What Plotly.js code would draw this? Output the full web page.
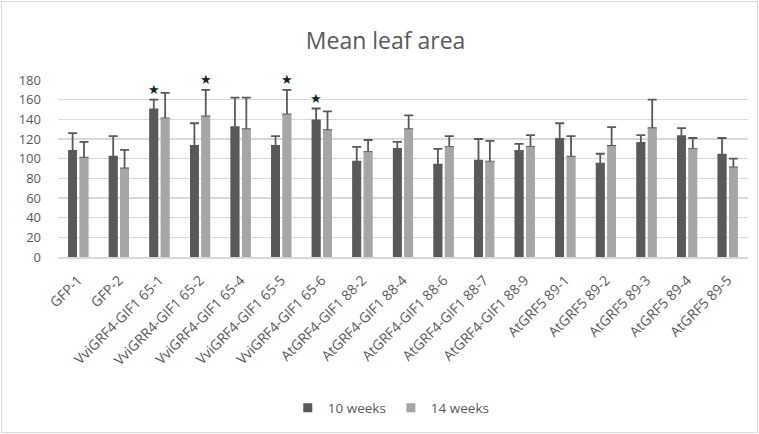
<!DOCTYPE html>
<html><head><meta charset="utf-8">
<script src="https://cdn.plot.ly/plotly-3.0.1.min.js"></script>
<style>
html,body{margin:0;padding:0;background:#fff;}
#frame{position:absolute;left:1px;top:1px;width:755px;height:430px;border:1px solid #d9d9d9;}
#chart{position:absolute;left:0;top:0;width:759px;height:434px;}
</style></head>
<body>
<div id="frame"></div>
<div id="chart"></div>
<script>
const categories = ["GFP-1","GFP-2","VviGRF4-GIF1 65-1","VviGRR4-GIF1 65-2","VviGRF4-GIF1 65-4","VviGRF4-GIF1 65-5","VviGRF4-GIF1 65-6","AtGRF4-GIF1 88-2","AtGRF4-GIF1 88-4","AtGRF4-GIF1 88-6","AtGRF4-GIF1 88-7","AtGRF4-GIF1 88-9","AtGRF5 89-1","AtGRF5 89-2","AtGRF5 89-3","AtGRF5 89-4","AtGRF5 89-5"];
const weeks10 = [108,102,150,113,132,113,139,97,110,94,98,108,120,95,116,123,104];
const err10   = [18,21,10,23,30,10,12,15,7,16,22,7,16,10,8,8,17];
const weeks14 = [101,90,141,143,130,145,129,107,130,112,97,112,102,113,131,110,91];
const err14   = [16,19,26,27,32,25,19,12,14,11,21,12,21,19,29,11,9];
// significance stars: category index, which series (0 = 10 weeks, 1 = 14 weeks)
const starIdx    = [2,3,5,6];
const starSeries = [0,1,1,0];
const seriesNames = ["10 weeks","14 weeks"];
const seriesColors = ["#595959","#a6a6a6"];

const gray = "#595959";
const font = "'Open Sans', sans-serif";
const vals = [weeks10, weeks14];
const errs = [err10, err14];

const traces = [];
// bars with upward error bars
[0,1].forEach(s=>{
  traces.push({type:"bar", name:seriesNames[s], x:categories, y:vals[s], offsetgroup:"g"+s,
    marker:{color:seriesColors[s]}, showlegend:false,
    error_y:{type:"data", symmetric:false, array:errs[s], arrayminus:errs[s].map(()=>0),
             visible:true, color:"#595959", thickness:1.8, width:4.5}});
});
// same bars again on top, hiding the lower half of the error bars
[0,1].forEach(s=>{
  traces.push({type:"bar", name:seriesNames[s], x:categories, y:vals[s], offsetgroup:"g"+s,
    marker:{color:seriesColors[s]}, showlegend:false});
});
// legend entries
[0,1].forEach(s=>{
  traces.push({type:"scatter", mode:"markers", name:seriesNames[s], x:[null], y:[null],
    marker:{symbol:"square", size:9, color:seriesColors[s]}, showlegend:true});
});

const annotations = starIdx.map((ci,i)=>{
  const s = starSeries[i];
  return {x:categories[ci], y:vals[s][ci] + errs[s][ci], xref:"x", yref:"y",
    text:"★", showarrow:false, yanchor:"bottom", yshift:1,
    xshift: s===0 ? -5.6 : 5.6,
    font:{family:"DejaVu Sans", size:13, color:"#0d2626"}};
});

const layout = {
  width:759, height:434,
  margin:{l:58, r:11, t:80, b:177},
  paper_bgcolor:"rgba(0,0,0,0)", plot_bgcolor:"rgba(0,0,0,0)",
  title:{text:"Mean leaf area", x:0.508, xanchor:"center", y:0.905, yanchor:"middle",
         font:{family:font, size:23, color:gray}},
  barmode:"group", bargap:0.44, bargroupgap:0.23,
  showlegend:true,
  legend:{orientation:"h", x:0.483, xanchor:"center", y:-0.853, yanchor:"middle",
          font:{family:font, size:13.5, color:gray}, traceorder:"normal", itemwidth:30},
  xaxis:{type:"category", tickangle:-45, tickfont:{family:font, size:14, color:gray},
         showline:true, linecolor:"#d9d9d9", linewidth:1.5, ticks:"", showgrid:false,
         ticklabelstandoff:8},
  yaxis:{range:[0,180], dtick:20, tick0:0, tickfont:{family:font, size:13, color:gray},
         showgrid:true, gridcolor:"#d9d9d9", gridwidth:1.5, zeroline:false,
         showline:false, ticks:"", ticklabelstandoff:16},
  annotations:annotations,
  font:{family:font, color:gray}
};

Plotly.newPlot("chart", traces, layout, {staticPlot:true, displayModeBar:false});
</script>
</body></html>
